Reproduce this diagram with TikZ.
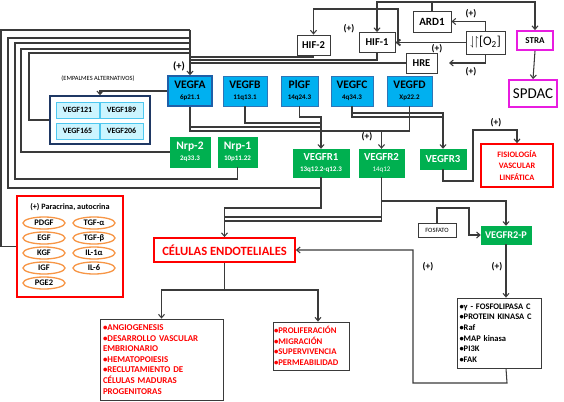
\documentclass[tikz,border=0pt]{standalone}
\usepackage{amssymb}
\usepackage{fontspec}
\setmainfont{Carlito}
\usetikzlibrary{arrows.meta,shapes.geometric}
\definecolor{lc}{HTML}{3A3A3A}
\definecolor{vblue}{HTML}{00B0F0}
\definecolor{vblueb}{HTML}{2E75B6}
\definecolor{vbluedark}{HTML}{1F5FA8}
\definecolor{vgreen}{HTML}{00B050}
\definecolor{navyb}{HTML}{1F3864}
\definecolor{lcyan}{HTML}{CCF5FF}
\definecolor{lcyanb}{HTML}{4FC8F0}
\definecolor{magen}{HTML}{E81CE0}
\definecolor{ored}{HTML}{FF0000}
\definecolor{orng}{HTML}{F79646}
\newcommand{\myfs}[2]{\fontsize{#1}{#2}\selectfont}
\begin{document}
\begin{tikzpicture}[x=1pt,y=-1pt,
  bbox/.style={draw=lc, line width=0.9pt, fill=white, inner sep=0pt, font=\bfseries\myfs{10.5}{12}},
  blu/.style={fill=vblue, draw=vblueb, line width=0.6pt, inner sep=0pt, align=center, font=\bfseries},
  grn/.style={fill=vgreen, draw=vgreen, text=white, inner sep=0pt, align=center, font=\bfseries},
  isob/.style={fill=lcyan, draw=lcyanb, line width=0.8pt, inner sep=0pt, minimum width=43pt, minimum height=16pt, font=\bfseries\myfs{8}{9}},
  redbox/.style={draw=ored, line width=1.6pt, fill=white, inner sep=0pt},
  mag/.style={draw=magen, line width=1.8pt, fill=white, inner sep=0pt},
  ell/.style={ellipse, draw=orng, line width=1.3pt, fill=white, minimum width=42pt, minimum height=12pt, inner sep=0pt, font=\bfseries\myfs{8.5}{9}},
  conn/.style={draw=lc, line width=1.05pt},
  arr/.style={conn, -{Straight Barb[length=3.5pt,width=6pt]}},
  plus/.style={font=\bfseries\myfs{9.5}{10}, inner sep=0pt}]
\useasboundingbox (0,0) rectangle (564,401);

% ---------- top nodes
\node[bbox, minimum width=33pt, minimum height=20pt] (HIF2) at (313.5,45) {HIF-2};
\node[bbox, minimum width=36pt, minimum height=20pt] (HIF1) at (377,42.5) {HIF-1};
\node[bbox, minimum width=38pt, minimum height=21pt, font=\bfseries\myfs{11}{12}] (ARD1) at (432,21.5) {ARD1};
\node[bbox, minimum width=39pt, minimum height=23pt, font=\myfs{13}{14}] (O2) at (485.5,42.5) {$\downharpoonleft\!\upharpoonright$[O\textsubscript{2}]};
\node[bbox, minimum width=31pt, minimum height=20pt] (HRE) at (421.5,63) {HRE};
\node[mag, minimum width=36pt, minimum height=19pt, font=\bfseries\myfs{9}{10}] (STRA) at (535,40.5) {STRA};
\node[mag, minimum width=48pt, minimum height=27pt, font=\myfs{15}{16}] (SPDAC) at (533,93.5) {SPDAC};

% ---------- VEGF ligands
\node[blu, draw=vbluedark, line width=1.4pt, minimum width=44pt, minimum height=30pt] (VEGFA) at (190,91) {\myfs{11.5}{12}VEGFA\\[-1pt]\myfs{7}{8}6p21.1};
\node[blu, minimum width=44pt, minimum height=30pt] (VEGFB) at (245,91) {\myfs{11.5}{12}VEGFB\\[-1pt]\myfs{7}{8}11q13.1};
\node[blu, minimum width=37pt, minimum height=30pt] (PlGF) at (299.5,91) {\myfs{11.5}{12}PlGF\\[-1pt]\myfs{7}{8}14q24.3};
\node[blu, minimum width=42pt, minimum height=30pt] (VEGFC) at (352,91) {\myfs{11.5}{12}VEGFC\\[-1pt]\myfs{7}{8}4q34.3};
\node[blu, minimum width=45pt, minimum height=30pt] (VEGFD) at (409.5,91) {\myfs{11.5}{12}VEGFD\\[-1pt]\myfs{7}{8}Xp22.2};

% ---------- isoforms
\node[font=\myfs{6.4}{7}, inner sep=0pt] (EMP) at (98,79) {(EMPALMES ALTERNATIVOS)};
\node[draw=navyb, line width=1.4pt, fill=white, minimum width=100pt, minimum height=48pt, inner sep=0pt] (ISO) at (100,120) {};
\node[isob] (I121) at (77.5,110) {VEGF121};
\node[isob] (I189) at (121.5,110) {VEGF189};
\node[isob] (I165) at (77.5,131) {VEGF165};
\node[isob] (I206) at (121.5,131) {VEGF206};

% ---------- receptors
\node[grn, minimum width=40pt, minimum height=30pt] (Nrp2) at (190,152) {\myfs{11.5}{12}Nrp-2\\[-1pt]\myfs{7}{8}2q33.3};
\node[grn, minimum width=39pt, minimum height=30pt] (Nrp1) at (237.5,152) {\myfs{11.5}{12}Nrp-1\\[-1pt]\myfs{7}{8}10p11.22};
\node[grn, minimum width=56pt, minimum height=28pt] (VEGFR1) at (321,163) {\myfs{10.8}{12}VEGFR1\\[-1pt]\myfs{7}{8}13q12.2-q12.3};
\node[grn, minimum width=45pt, minimum height=28pt] (VEGFR2) at (381.5,163) {\myfs{10.8}{12}VEGFR2\\[-1pt]\mdseries\myfs{7}{8}14q12};
\node[grn, minimum width=46pt, minimum height=20pt, font=\bfseries\myfs{10.8}{12}] (VEGFR3) at (443,159) {VEGFR3};
\node[redbox, minimum width=72pt, minimum height=43pt, text=ored, align=center, font=\bfseries\myfs{8.3}{11.7}] (FISIO) at (517,165.5) {FISIOLOGÍA\\VASCULAR\\LINFÁTICA};

\node[bbox, line width=0.6pt, minimum width=38pt, minimum height=14pt, font=\myfs{6.5}{7}] (FOSF) at (437,230) {FOSFATO};
\node[grn, minimum width=50pt, minimum height=18pt, font=\bfseries\myfs{10.3}{11}] (VR2P) at (506,235) {VEGFR2-P};
\node[bbox, line width=0.8pt, minimum width=84pt, minimum height=70pt, text width=79pt, align=left, font=\bfseries\myfs{8.5}{10.6}] (LIST) at (499,333) {•γ - FOSFOLIPASA C\\•PROTEIN KINASA C\\•Raf\\•MAP kinasa\\•PI3K\\•FAK};

\node[redbox, line width=1.8pt, minimum width=141pt, minimum height=24pt, text=ored, font=\bfseries\myfs{12.6}{14}] (CEL) at (224.5,250) {CÉLULAS ENDOTELIALES};
\node[bbox, line width=0.8pt, minimum width=123pt, minimum height=81pt, text width=117pt, align=left, text=ored, font=\bfseries\myfs{8.9}{10.6}] (RES1) at (161.5,359.5) {•ANGIOGENESIS\\•DESARROLLO VASCULAR\\EMBRIONARIO\\•HEMATOPOIESIS\\•RECLUTAMIENTO DE\\CÉLULAS MADURAS\\PROGENITORAS};
\node[bbox, line width=0.8pt, minimum width=76pt, minimum height=48pt, text width=74pt, align=left, text=ored, font=\bfseries\myfs{8.7}{10.5}] (RES2) at (311,346) {•PROLIFERACIÓN\\•MIGRACIÓN\\•SUPERVIVENCIA\\•PERMEABILIDAD};

% ---------- paracrine box
\node[redbox, minimum width=106pt, minimum height=101pt] (PARA) at (70,246.5) {};
\node[font=\bfseries\myfs{8.2}{9}, inner sep=0pt] (PT) at (70,207) {(+) Paracrina, autocrina};
\node[ell] (PDGF) at (44,223) {PDGF};
\node[ell] (EGF) at (44,238) {EGF};
\node[ell] (KGF) at (44,253) {KGF};
\node[ell] (IGF) at (44,268) {IGF};
\node[ell] (PGE2) at (44,283) {PGE2};
\node[ell] (TGFa) at (94,223) {TGF-α};
\node[ell] (TGFb) at (94,238) {TGF-β};
\node[ell] (IL1) at (94,253) {IL-1α};
\node[ell] (IL6) at (94,268) {IL-6};

% ---------- plus labels
\node[plus, font=\bfseries\myfs{10.5}{11}] (p1) at (179,66) {(+)};
\node[plus] (p2) at (349,29) {(+)};
\node[plus] (p3) at (471,14) {(+)};
\node[plus] (p4) at (437,49) {(+)};
\node[plus] (p5) at (471,72) {(+)};
\node[plus] (p6) at (367,137) {(+)};
\node[plus] (p7) at (496,123) {(+)};
\node[plus] (p8) at (497,267) {(+)};
\node[plus] (p9) at (428,267) {(+)};

% ---------- coordinates
\coordinate (vtop) at (190,30);
\coordinate (r2in) at (318,290);

% ---------- top connectors
\draw[arr] (ARD1.north) |- (377,2) -- (HIF1.north);
\draw[arr] (ARD1.north) |- (535,2) -- (STRA.north);
\draw[arr] (STRA.south) -- (SPDAC.north);
\draw[arr, line width=1.8pt] (O2.west) -- (HIF1.east);
\draw[arr] (398,42.5) |- (313.5,9) -- (HIF2.north);
\draw[arr] (O2.north) |- (ARD1.east);
\draw[arr] (O2.south) |- (449,63);

% HIF/HRE -> VEGFA
\draw[conn] (HIF2.south) |- (190,57);
\draw[conn] (HIF1.south) |- (190,60);
\draw[conn] (HRE.west) -- (190,63);

% feedback loops -> VEGFA
\draw[conn] (PARA.west) -- (1,246.5) |- (vtop);
\draw[conn] (VEGFR1.south) |- (8,188) |- (190,38);
\draw[conn] (Nrp1.south) |- (15,179) |- (190,43);
\draw[conn] (Nrp2.west) -- (21,152) |- (190,49);
\draw[conn] (ISO.west) -- (29,120) |- (190,53);
\draw[arr] (vtop) -- (VEGFA.north);

% isoforms
\draw[arr] (VEGFA.west) -| (ISO.north);

% ligands -> receptors
\draw[arr] (PlGF.south) |- (321,117) -- (VEGFR1.north);
\draw[conn] (VEGFB.south) |- (321,123);
\draw[conn] (VEGFA.south) |- (321,127);
\draw[arr] (VEGFA.south) |- (381.5,131) -- (VEGFR2.north);
\draw[conn] (VEGFD.south) |- (381.5,131);
\draw[arr] (VEGFC.south) |- (443,113) -- (VEGFR3.north);
\draw[conn] (VEGFC.south) |- (443,117);

% VEGFR3 -> physiology
\draw[arr] (VEGFR3.south) |- (473,181) |- (517,130) -- (FISIO.north);

% receptors -> endothelial cells
\draw[arr] (VEGFR1.south) |- (224.5,208) -- (CEL.north);
\draw[conn] (VEGFR2.south) |- (224.5,217);
\draw[conn] (VEGFR2.south) |- (224.5,221);
\draw[arr] (VEGFR2.south) |- (506,201) -- (VR2P.north);
\draw[arr] (FOSF.north) |- (469,208) |- (VR2P.west);
\draw[arr] (VR2P.south) -- (VR2P.south |- LIST.north);
\draw[arr] (VR2P.south |- LIST.south) -- (507,383) -| (413,250) -- (CEL.east);

% endothelial cells -> effects
\draw[arr] (CEL.south) |- (161.5,290) -- (RES1.north);
\draw[arr] (CEL.south) |- (r2in) -- (RES2.north -| r2in);
\end{tikzpicture}
\end{document}
